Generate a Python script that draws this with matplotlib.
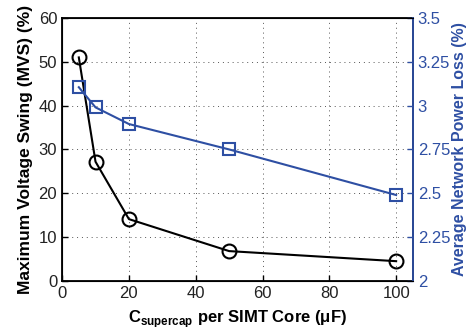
import numpy as np
import matplotlib as mpl
from matplotlib import pyplot as plt

# values
capacitance = [5, 10, 20, 50, 100]
mvs = [51.0, 27.2, 14.1, 6.8, 4.5]
power_loss = [3.105, 2.99, 2.895, 2.75, 2.49]

x_ticks = [0, 20, 40, 60, 80, 100]
left_ticks = [0, 10, 20, 30, 40, 50, 60]
right_ticks = [2, 2.25, 2.5, 2.75, 3, 3.25, 3.5]
right_labels = ["2", "2.25", "2.5", "2.75", "3", "3.25", "3.5"]

blue = "#2e4fa3"
plt.rcParams["font.family"] = ["Liberation Sans", "DejaVu Sans"]
plt.rcParams["mathtext.fontset"] = "custom"
plt.rcParams["mathtext.bf"] = "Liberation Sans:bold"
plt.rcParams["mathtext.rm"] = "Liberation Sans"

fig = plt.figure(figsize=(4.67, 3.27), dpi=100)
ax = fig.add_axes([0.133, 0.141, 0.751, 0.804])

ax.plot(capacitance, mvs, color="black", lw=1.5, marker="o", ms=10,
        mfc="none", mec="black", mew=1.5, zorder=3, clip_on=False)
ax.set_xlim(0, 105)
ax.set_ylim(0, 60)
ax.set_xticks(x_ticks)
ax.set_yticks(left_ticks)
ax.grid(True, linestyle=(0, (1, 4)), color="#555555", lw=0.7)
ax.tick_params(direction="in", labelsize=12, length=4, width=1, labelcolor="#222222")
ax.set_ylabel("Maximum Voltage Swing (MVS) (%)", fontsize=12.5, fontweight="bold", labelpad=4)
ax.set_xlabel("C$_{\\mathbf{supercap}}$ per SIMT Core (\u03bcF)", fontsize=12,
              fontweight="bold", labelpad=5)
for s in ax.spines.values():
    s.set_linewidth(1.3)

ax2 = ax.twinx()
ax2.plot(capacitance, power_loss, color=blue, lw=1.5, marker="s", ms=8,
         mfc="none", mec=blue, mew=1.5, zorder=3)
ax2.set_ylim(2, 3.5)
ax2.set_yticks(right_ticks)
ax2.set_yticklabels(right_labels)
ax2.tick_params(direction="in", labelsize=12, length=4, width=1, colors=blue)
ax2.spines["right"].set_color(blue)
ax2.spines["right"].set_linewidth(1.3)
ax2.set_ylabel("Average Network Power Loss (%)", fontsize=11.5, fontweight="bold",
               color=blue, labelpad=1)

fig.savefig("out.png", dpi=100)
